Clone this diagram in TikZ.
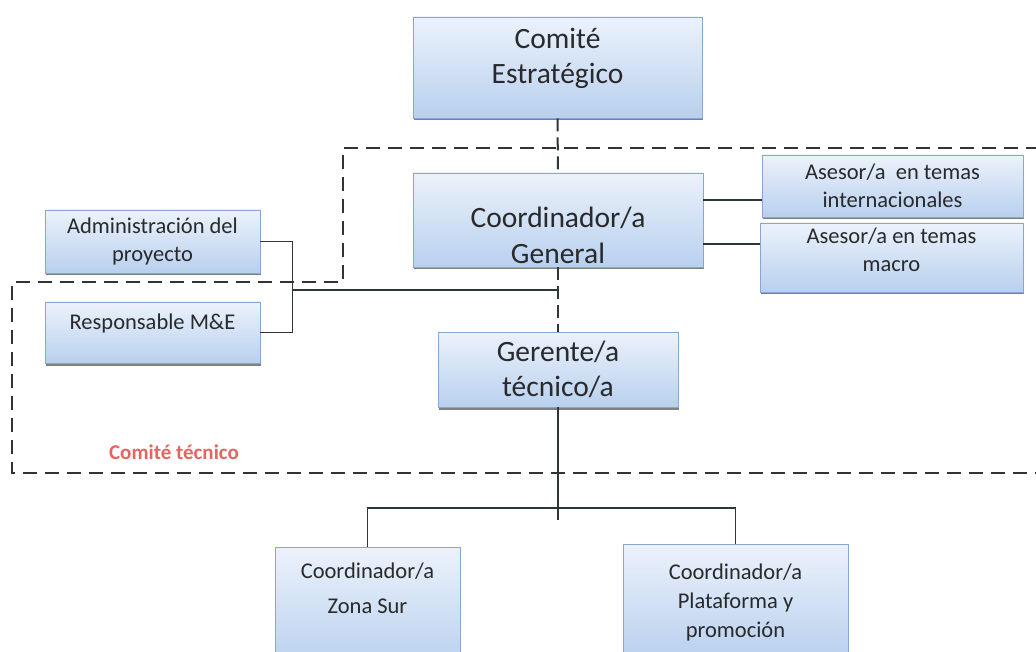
\documentclass[tikz,border=0pt]{standalone}
\usepackage{fontspec}
\setmainfont{Carlito}
\usetikzlibrary{positioning, shadows}

\definecolor{boxtop}{RGB}{236,242,251}
\definecolor{boxbot}{RGB}{184,208,238}
\definecolor{boxedge}{RGB}{135,166,212}
\definecolor{boxtext}{RGB}{40,42,44}
\definecolor{linegray}{RGB}{45,55,55}
\definecolor{ctred}{RGB}{229,102,96}

\begin{document}
\begin{tikzpicture}[x=1pt, y=-1pt,
    orgbox/.style={draw=boxedge, line width=0.8pt, top color=boxtop, bottom color=boxbot,
      align=center, text=boxtext, inner sep=0pt,
      drop shadow={shadow xshift=0.5pt, shadow yshift=-2.5pt, fill=black!55, opacity=0.9}},
    bigbox/.style={orgbox, font=\fontsize{29.5}{35.5}\selectfont},
    smallbox/.style={orgbox, font=\fontsize{22.5}{28}\selectfont},
    orgline/.style={draw=linegray, line width=1.5pt},
    orgdash/.style={orgline, line width=2pt, dash pattern=on 13pt off 6pt},
    ctframe/.style={draw=black!80, line width=2.4pt, dash pattern=on 14pt off 8pt}]
      \fill[white] (0,0) rectangle (1036,652);
      \useasboundingbox (0,0) rectangle (1036,652);

      % Comite tecnico (dashed outline)
      \draw[ctframe] (1040,148) -| (343,282) -| (12,473) -- (1040,473);
      \node[text=ctred, font=\bfseries\fontsize{21}{25}\selectfont] (ctlabel) at (174,452) {Comité técnico};

      % main line
      \node[bigbox, minimum width=289pt, minimum height=101pt] (estr) at (557.5,67.5) {Comité\\Estratégico\\[-12pt]\mbox{}};
      \node[bigbox, minimum width=290pt, minimum height=94pt] (coord) at (558,220) {\mbox{}\\[16pt]Coordinador/a\\General};
      \node[bigbox, minimum width=240pt, minimum height=75pt] (gerente) at (558,369.5) {Gerente/a\\técnico/a};

      % side boxes
      \node[smallbox, minimum width=215pt, minimum height=63pt] (admin) at (152.5,241.5) {Administración del\\proyecto};
      \node[smallbox, minimum width=215pt, minimum height=61pt] (mye) at (152.5,332.5) {Responsable M\&E\\[-6pt]\mbox{}};
      \node[smallbox, minimum width=261pt, minimum height=62pt] (ases1) at (892.5,186) {Asesor/a\ \ en temas\\internacionales};
      \node[smallbox, minimum width=263pt, minimum height=69pt] (ases2) at (891.5,257.5) {Asesor/a en temas\\macro\\[-12pt]\mbox{}};

      % lower level
      \node[smallbox, minimum width=185pt, inner ysep=15pt, anchor=north] (zona) at (367.5,547) {Coordinador/a\\[7pt]Zona Sur\\[12pt]\mbox{}};
      \node[smallbox, minimum width=225pt, inner ysep=19pt, anchor=north] (plat) at (735.5,544) {Coordinador/a\\[1pt]Plataforma y\\[1pt]promoción};

      % connectors
      \draw[orgdash] (estr.south) -- (coord.north);
      \draw[orgdash] (coord.south) -- (gerente.north);
      \coordinate (a1) at ([yshift=-14pt]ases1.west);
      \coordinate (a2) at ([yshift=13.5pt]ases2.west);
      \draw[orgline] (a1) -- (a1 -| coord.east);
      \draw[orgline] (a2) -- (a2 -| coord.east);
      \draw[orgline] (admin.east) -- ++(32,0) coordinate (brk) |- (mye.east);
      \draw[orgline] (brk |- 0,290) -- (coord.south |- 0,290);
      \draw[orgline] (gerente.south) -- (gerente.south |- 0,520);
      \draw[orgline] (zona.north) |- (plat.north |- 0,508) -- (plat.north);
    \end{tikzpicture}
\end{document}
